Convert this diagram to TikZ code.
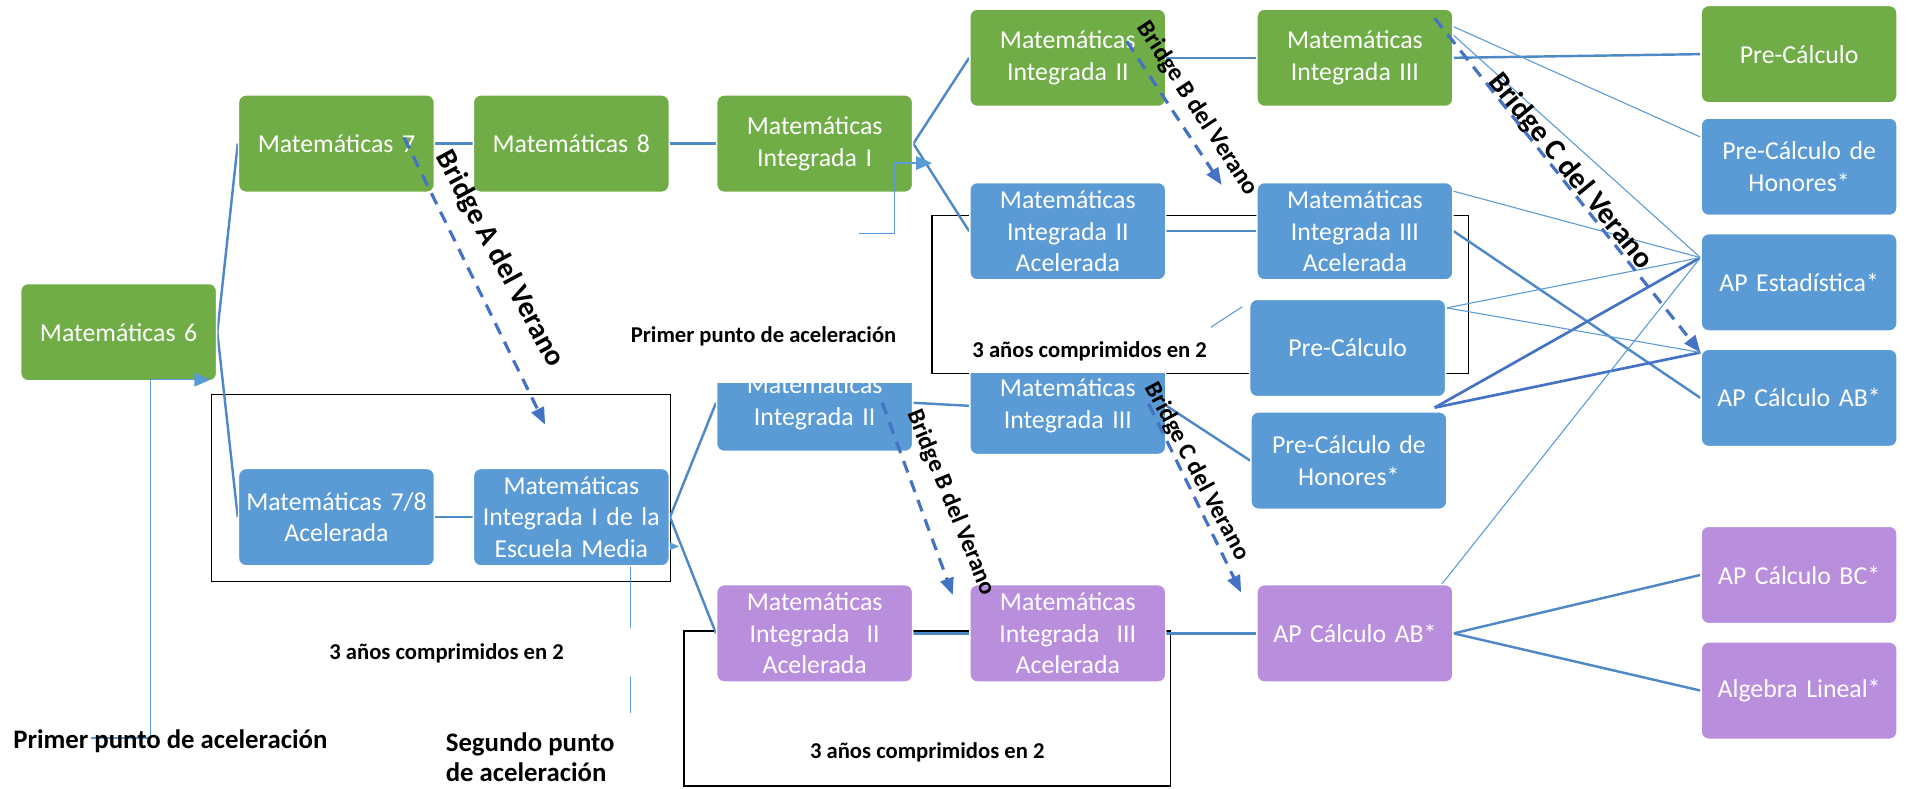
\documentclass[tikz,border=0pt]{standalone}
\usepackage{fontspec}
\setmainfont{Carlito}
\usetikzlibrary{arrows.meta,calc}
\definecolor{bgreen}{HTML}{70AD47}
\definecolor{bblue}{HTML}{5B9BD5}
\definecolor{bpurple}{HTML}{B98EDC}
\definecolor{cline}{HTML}{4F88C6}
\definecolor{tline}{HTML}{5B9BD5}
\definecolor{dline}{HTML}{4472C4}
\pgfdeclarelayer{bg}
\pgfsetlayers{bg,main}
\begin{document}
\begin{tikzpicture}[x=0.5pt,y=-0.5pt,
  box/.style={rounded corners=3pt, minimum width=80.5pt, minimum height=40pt, inner sep=0pt,
    text width=80pt, align=center, text=white, font=\fontsize{10.6}{13}\selectfont,
    draw=white, line width=0.6pt},
  gbox/.style={box, fill=bgreen},
  bbox/.style={box, fill=bblue},
  pbox/.style={box, fill=bpurple},
  conn/.style={draw=cline, line width=1pt},
  thinl/.style={draw=tline, line width=0.45pt},
  dconn/.style={draw=dline, line width=1.1pt},
  bridge/.style={draw=dline, line width=1.3pt, dash pattern=on 5pt off 3.5pt,
    -{Triangle[length=7pt,width=5.5pt]}},
  brlbl/.style={inner sep=0pt, text=black},
  lbl/.style={font=\bfseries\fontsize{9.3}{11}\selectfont, inner sep=0pt},
  biglbl/.style={font=\bfseries\fontsize{11}{12.3}\selectfont, inner sep=0pt},
  frame/.style={draw=black, line width=0.55pt},
  ptr/.style={draw=tline, line width=0.5pt, -{Triangle[length=6.6pt,width=5.6pt]}}
]
\useasboundingbox (0,0) rectangle (1568,648);

% boxes
\node[gbox] (M6) at (97.5,273) {Matemáticas 6};
\node[gbox] (M7) at (276.5,118) {Matemáticas 7};
\node[gbox] (M8) at (469.5,118) {Matemáticas 8};
\node[gbox] (MI1) at (669.5,118) {Matemáticas\\Integrada I};
\node[gbox] (MI2) at (877.5,47.5) {Matemáticas\\Integrada II};
\node[gbox] (MI3) at (1113.5,47.5) {Matemáticas\\Integrada III};
\node[gbox] (PC) at (1478.5,44.5) {Pre-Cálculo};
\node[bbox] (MI2A) at (877.5,190) {Matemáticas\\Integrada II\\Acelerada};
\node[bbox] (MI3A) at (1113.5,190) {Matemáticas\\Integrada III\\Acelerada};
\node[bbox] (PCH) at (1478.5,137) {Pre-Cálculo de\\Honores*};
\node[bbox] (APE) at (1478.5,232) {AP Estadística*};
\node[bbox] (PC2) at (1107.5,286) {Pre-Cálculo};
\node[bbox] (APAB) at (1478.5,327) {AP Cálculo AB*};
\node[bbox] (MI2b) at (669.5,331) {Matemáticas\\Integrada II};
\node[bbox] (MI3b) at (877.5,333.5) {Matemáticas\\Integrada III};
\node[bbox] (PCH2) at (1108.5,378.5) {Pre-Cálculo de\\Honores*};
\node[bbox] (M78A) at (276.5,425) {Matemáticas 7/8\\Acelerada};
\node[bbox] (MIEM) at (469.5,425) {Matemáticas\\Integrada I de la\\Escuela Media};
\node[pbox] (MI2AP) at (669.5,520.5) {Matemáticas\\Integrada~~II\\Acelerada};
\node[pbox] (MI3AP) at (877.5,520.5) {Matemáticas\\Integrada~~III\\Acelerada};
\node[pbox] (APAB2) at (1113.5,520.5) {AP Cálculo AB*};
\node[pbox] (APBC) at (1478.5,472.5) {AP Cálculo BC*};
\node[pbox] (AL) at (1478.5,567.5) {Algebra Lineal*};

% free ends and points on boxes
\coordinate (pa1) at (75,606.5);
\coordinate (pa2) at (173,312);
\coordinate (pb1) at (518,586);
\coordinate (pb2) at (558,449);
\coordinate (pc1) at (706,192);
\coordinate (pc2) at (766,134);
\coordinate (mi3c) at (1179,15);
\coordinate (mi3ac) at (1194,157);
\coordinate (pc2c) at (1189,253);
\coordinate (pch2c) at (1179,335);
\coordinate (apab2c) at (1179,487.5);
\coordinate (s1) at (995,269);
\coordinate (s2) at (1021,252);
\coordinate (pchIn) at ($(PCH.north west)!0.2!(PCH.south west)$);
\coordinate (apeIn) at ($(APE.north west)!0.25!(APE.south west)$);
\coordinate (apabIn) at ($(APAB.north west)!0.04!(APAB.south west)$);

\begin{pgfonlayer}{bg}
% frames
\draw[frame] (174,324) rectangle (551,478);
\draw[frame] (766,177) rectangle (1207,307);
\draw[frame] (562,518.5) rectangle (962,646);
% arrow from "Segundo punto"
\draw[ptr] (pb1) |- (pb2);
\fill[white] (510,516) rectangle (526,556);
% connectors
\draw[conn] (M6.east) -- (M7.west);
\draw[conn] (M6.east) -- (M78A.west);
\draw[conn] (M7.east) -- (M8.west);
\draw[conn] (M8.east) -- (MI1.west);
\draw[conn] (MI1.east) -- (MI2.west);
\draw[conn] (MI1.east) -- (MI2A.west);
\draw[conn] (MI2.east) -- (MI3.west);
\draw[conn] (MI3.east) -- (PC.west);
\draw[conn] (MI2A.east) -- (MI3A.west);
\draw[conn] (MI3A.east) -- (APAB.west);
\draw[conn] (M78A.east) -- (MIEM.west);
\draw[conn] (MIEM.east) -- (MI2b.west);
\draw[conn] (MIEM.east) -- (MI2AP.west);
\draw[conn] (MI2b.east) -- (MI3b.west);
\draw[conn] (MI3b.east) -- (PCH2.west);
\draw[conn] (MI2AP.east) -- (MI3AP.west);
\draw[conn] (MI3AP.east) -- (APAB2.west);
\draw[conn] (APAB2.east) -- (APBC.west);
\draw[conn] (APAB2.east) -- (AL.west);
\draw[dconn] (pch2c) -- (apeIn);
\draw[dconn] (pch2c) -- (apabIn);
\draw[thinl] (mi3c) -- (pchIn);
\draw[thinl] (mi3c) -- (apeIn);
\draw[thinl] (mi3ac) -- (apeIn);
\draw[thinl] (pc2c) -- (apeIn);
\draw[thinl] (pc2c) -- (apabIn);
\draw[thinl] (apab2c) -- (apeIn);
\draw[thinl] (s1) -- (s2);
\end{pgfonlayer}

% white covers (text boxes in the original)
\fill[white] (586,250) rectangle (753,314.5);
\fill[white] (795,250) rectangle (961,306.3);

% arrows drawn over boxes
\draw[ptr] (pc1) -| (735,134) -- (pc2);
\draw[ptr] (pa1) -| (124,312) -- (pa2);

% labels
\node[lbl, anchor=east] (lp1) at (737,276) {Primer punto de aceleración};
\node[lbl] (l3a) at (895.5,289) {3 años comprimidos en 2};
\node[lbl] (l3b) at (367,537) {3 años comprimidos en 2};
\node[lbl] (l3c) at (762,618) {3 años comprimidos en 2};
\node[biglbl] (lp2) at (140,609) {Primer punto de aceleración};
\node[biglbl, anchor=west, align=left] (lsp) at (366,622) {Segundo punto\\de aceleración};

% bridge labels
\node[brlbl, rotate=-61.6, font=\bfseries\fontsize{12.1}{14}\selectfont] (bA) at (410.5,213) {Bridge A del Verano};
\node[brlbl, rotate=-56.9, font=\bfseries\fontsize{10.2}{12}\selectfont] (bB1) at (984,89.5) {Bridge B del Verano};
\node[brlbl, rotate=-67.5, font=\bfseries\fontsize{10}{12}\selectfont] (bB2) at (781.5,413) {Bridge B del Verano};
\node[brlbl, rotate=-62, font=\bfseries\fontsize{10}{12}\selectfont] (bC2) at (983.5,387.5) {Bridge C del Verano};
\node[brlbl, rotate=-50.9, font=\bfseries\fontsize{12.3}{14}\selectfont] (bC1) at (1290.5,141) {Bridge C del Verano};

% bridges (dashed)
\coordinate (ba1) at (332,113); \coordinate (ba2) at (448,349);
\coordinate (bb1) at (926,34); \coordinate (bb2) at (1004,152);
\coordinate (bb3) at (725,331); \coordinate (bb4) at (783,489);
\coordinate (bc3) at (944,332); \coordinate (bc4) at (1020,487);
\draw[bridge] (ba1) -- (ba2);
\draw[bridge] (bb1) -- (bb2);
\draw[bridge] (bb3) -- (bb4);
\draw[bridge] (bc3) -- (bc4);
\draw[bridge] (mi3c) -- (apabIn);
\end{tikzpicture}
\end{document}
